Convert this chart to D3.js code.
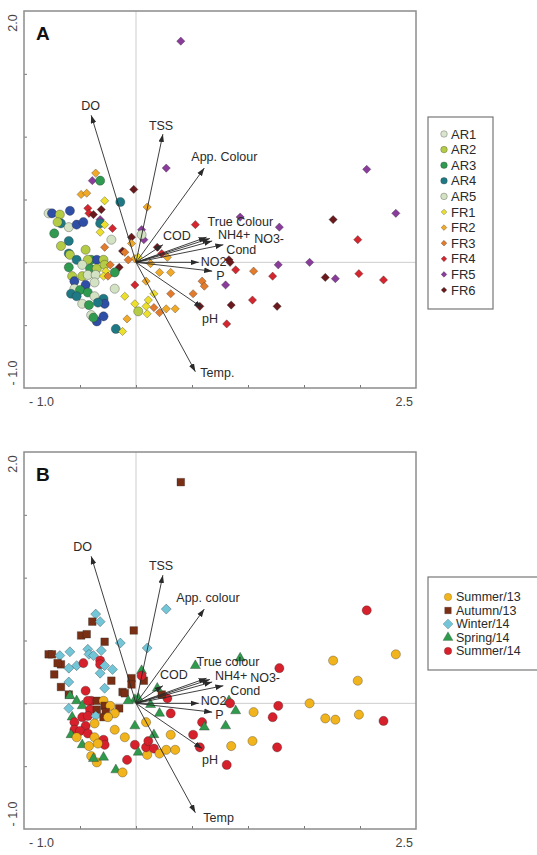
<!DOCTYPE html>
<html>
<head>
<meta charset="utf-8">
<script src="https://d3js.org/d3.v7.min.js"></script>
<style>
  body { margin: 0; background: #fff; }
  svg text { font-family: "Liberation Sans", Arial, sans-serif; fill: #2a2a2a; }
  .key text { font-family: "Liberation Sans Narrow", "Arial Narrow", "Liberation Sans", sans-serif; }
</style>
</head>
<body>
<svg id="chart" width="537" height="855"></svg>
<script>
// sites (panel A) and sampling campaigns (panel B)
const siteNames = ["AR1","AR2","AR3","AR4","AR5","FR1","FR2","FR3","FR4","FR5","FR6"];
const siteColours = ["#2f4fa6","#b4cb46","#2f9a50","#1e7985","#d3e2c3","#ede02c","#f1a928","#e27b2b","#d4262f","#8a3c9b","#6a191d"];
const seasonNames = ["Summer/13","Autumn/13","Winter/14","Spring/14","Summer/14"];
const seasonColours = ["#f2b41c","#7a2f14","#72c6d8","#2f9a4b","#d6202b"];
const seasonShapes = ["circle","square","diamond","triangle","circle"];

// sample scores (same samples in both panels)
const scoreX = [-0.36,-0.39,-0.32,-0.49,-0.44,-0.02,-0.28,-0.14,-0.43,-0.31,
  -0.42,-0.38,-0.78,-0.75,-0.68,-0.59,-0.67,-0.70,-0.60,-0.53,
  -0.47,-0.32,-0.32,-0.28,-0.21,-0.32,-0.73,-0.22,-0.60,-0.67,
  -0.45,-0.28,-0.04,-0.04,-0.12,-0.10,-0.60,-0.59,-0.01,-0.07,
  -0.53,-0.40,-0.35,-0.29,-0.43,-0.60,-0.48,-0.41,-0.35,-0.28,
  -0.23,-0.15,-0.19,-0.27,-0.57,-0.48,-0.43,-0.36,-0.29,-0.25,
  -0.55,-0.45,-0.37,-0.19,-0.55,-0.50,-0.43,-0.58,-0.53,-0.37,
  -0.29,-0.10,-0.01,-0.48,-0.42,-0.28,-0.34,-0.40,-0.35,-0.38,
  -0.29,-0.18,-0.12,-0.08,0.02,0.10,0.09,0.11,0.16,0.16,
  0.21,0.27,0.35,0.31,0.51,0.59,0.61,0.57,0.09,-0.01,
  0.21,0.31,0.13,0.28,0.23,0.19,0.10,0.53,0.05,0.07,
  0.05,0.02,2.06,2.32,1.76,1.98,1.28,0.93,1.55,1.27,
  0.83,0.84,0.89,1.05,1.22,1.69,1.78,1.99,2.21,0.80,
  0.85,1.04,1.26,0.81,0.40,0.27];
const scoreY = [0.71,0.65,0.65,0.54,0.55,0.58,0.49,0.48,0.43,0.42,
  0.39,0.38,0.39,0.39,0.38,0.41,0.31,0.32,0.28,0.30,
  0.32,0.34,0.31,0.30,0.27,0.24,0.23,0.18,0.17,0.13,
  0.10,0.12,0.20,0.15,0.09,0.08,0.07,0.06,0.03,0.02,
  0.02,0.02,0.02,0.02,0.02,-0.04,-0.02,-0.05,-0.05,-0.02,
  -0.02,-0.04,-0.08,-0.07,-0.11,-0.11,-0.10,-0.10,-0.11,-0.11,
  -0.15,-0.18,-0.16,-0.21,-0.21,-0.22,-0.24,-0.25,-0.27,-0.27,
  -0.29,-0.27,-0.33,-0.33,-0.34,-0.33,-0.32,-0.42,-0.47,-0.44,
  -0.43,-0.53,-0.55,-0.45,-0.39,-0.41,-0.35,-0.30,-0.25,-0.36,
  -0.40,-0.37,-0.37,-0.25,-0.25,-0.15,-0.19,-0.35,-0.15,-0.18,
  -0.08,-0.08,-0.01,0.04,0.07,0.12,0.44,0.30,0.26,0.18,
  0.22,0.04,0.74,0.39,0.34,0.18,0.28,0.36,0.00,-0.02,
  0.02,0.00,-0.06,-0.07,-0.11,-0.12,-0.13,-0.09,-0.14,-0.18,
  -0.34,-0.30,-0.35,-0.49,1.76,0.75];
const scoreSite = ["FR2","FR5","AR3","FR2","FR2","FR6","FR1","AR4","FR4","FR6",
  "FR4","FR6","AR5","AR1","AR2","AR1","AR4","AR2","AR5","AR1",
  "AR1","FR5","AR4","FR1","FR4","FR1","AR3","AR5","AR4","AR2",
  "AR2","FR3","FR6","FR2","FR6","FR3","AR4","AR2","FR2","FR3",
  "AR4","AR3","AR1","AR2","AR2","AR3","AR5","AR3","AR2","AR2",
  "FR3","FR6","AR3","FR1","AR2","AR2","AR5","AR5","FR1","FR3",
  "AR1","AR1","AR5","AR5","AR5","AR3","AR3","AR4","AR4","AR5",
  "AR4","FR1","FR1","AR5","AR3","AR1","AR4","AR5","AR1","AR3",
  "AR1","AR4","FR1","FR2","AR2","FR1","FR1","FR1","FR1","FR3",
  "FR3","FR2","FR2","FR3","FR3","FR3","FR3","FR6","FR2","FR4",
  "FR2","FR2","FR2","FR2","FR4","FR6","FR2","FR4","FR5","FR5",
  "AR5","FR1","FR5","FR5","FR6","FR4","FR5","FR5","FR5","FR5",
  "FR6","FR6","FR4","FR3","FR4","FR6","FR5","FR4","FR4","FR5",
  "FR6","FR4","FR6","FR4","FR5","FR5"];
// 0 Summer/13, 1 Autumn/13, 2 Winter/14, 3 Spring/14, 4 Summer/14
const scoreSeason = [2,1,2,1,1,1,1,2,2,2,
  2,2,1,1,2,2,1,1,2,2,
  4,4,4,2,2,2,1,1,2,1,
  4,2,1,1,1,1,1,3,3,3,
  3,4,1,0,4,2,3,4,1,1,
  0,1,0,1,3,4,4,2,1,0,
  4,4,0,0,4,4,4,3,0,0,
  4,0,4,3,0,4,0,0,0,3,
  3,3,0,4,3,0,4,4,3,4,
  0,0,0,0,4,4,3,4,0,3,
  3,4,3,4,1,3,2,3,3,1,
  4,3,4,0,0,0,4,3,0,4,
  3,4,3,0,4,0,0,0,4,3,
  0,0,4,4,1,2];

// environmental variables
const varLabelsA = ["DO","TSS","App. Colour","COD","True Colour","NH4+","NO3-","Cond","NO2","P","pH","Temp."];
const varLabelsB = ["DO","TSS","App. colour","COD","True colour","NH4+","NO3-","Cond","NO2","P","pH","Temp"];
const loadX = [-0.40,0.24,0.61,0.24,0.63,0.66,0.68,0.78,0.56,0.68,0.59,0.53];
const loadY = [1.17,1.02,0.75,0.14,0.20,0.19,0.17,0.14,0.00,-0.07,-0.36,-0.87];

// label placement relative to arrow tips (px)
const labelShiftA = [[-10,-5],[-14,-4],[-13,-7],[0,-5],[1,-11],[8,1],[42,2],[3,9],[2,4],[4,9],[0,15],[5,5]];
const labelShiftB = [[-18,-5],[-14,-5],[-28,-7],[-3,-7],[-10,-12],[5,1],[38,0],[7,9],[2,2],[3,7],[0,15],[8,9]];

const svg = d3.select("#chart");
const left = 24, right = 416, plotH = 377;

svg.append("defs").append("marker")
  .attr("id", "head")
  .attr("viewBox", "-8 -3 8 6")
  .attr("refX", 0).attr("refY", 0)
  .attr("markerWidth", 8).attr("markerHeight", 6)
  .attr("markerUnits", "userSpaceOnUse")
  .attr("orient", "auto")
  .append("path")
  .attr("d", "M0,0L-8,-2.8L-8,2.8Z")
  .attr("fill", "#2a2a2a");

var x = d3.scaleLinear().domain([-1, 2.5]).range([left, right]);

function symbolPath(shape, size) {
  if (shape == "diamond" || shape == "square")
    return d3.symbol().type(d3.symbolSquare).size(size)();
  if (shape == "triangle")
    return d3.symbol().type(d3.symbolTriangle).size(size)();
  return d3.symbol().type(d3.symbolCircle).size(size)();
}

function drawPanel(top, letter, colourOf, shapeOf, sizeOf, labels, shifts) {
  var bottom = top + plotH;
  var y = d3.scaleLinear().domain([-1, 2]).range([bottom, top]);
  var g = svg.append("g");

  // zero lines
  g.append("line").attr("x1", x(0)).attr("x2", x(0)).attr("y1", top).attr("y2", bottom)
    .style("stroke", "#cdcdcd").style("stroke-width", 1);
  g.append("line").attr("x1", left).attr("x2", right).attr("y1", y(0)).attr("y2", y(0))
    .style("stroke", "#cdcdcd").style("stroke-width", 1);

  // inner ticks
  var xAxis = g.append("g").attr("transform", "translate(0," + bottom + ")")
    .call(d3.axisBottom(x).tickValues([-0.5, 0, 0.5, 1, 1.5, 2]).tickSize(-3).tickFormat(""));
  var yAxis = g.append("g").attr("transform", "translate(" + left + ",0)")
    .call(d3.axisLeft(y).tickValues([-0.5, 0, 0.5, 1, 1.5]).tickSize(-3).tickFormat(""));
  [xAxis, yAxis].forEach(function(a) {
    a.select(".domain").remove();
    a.selectAll("line").style("stroke", "#777").style("stroke-width", 1);
  });

  // frame
  g.append("rect").attr("x", left).attr("y", top).attr("width", right - left).attr("height", plotH)
    .style("fill", "none").style("stroke", "#8c8c8c").style("stroke-width", 1.5);

  // end labels
  g.append("text").attr("x", x(-1) + 5).attr("y", bottom + 18).style("font-size", "12.5px").style("fill", "#444").text("- 1.0");
  g.append("text").attr("x", x(2.5) - 3).attr("y", bottom + 18).attr("text-anchor", "end").style("font-size", "12.5px").style("fill", "#444").text("2.5");
  g.append("text").attr("transform", "translate(17," + (y(2) + 12) + ") rotate(-90)")
    .attr("text-anchor", "middle").style("font-size", "12.5px").style("fill", "#444").text("2.0");
  g.append("text").attr("transform", "translate(17," + (y(-1) - 15) + ") rotate(-90)")
    .attr("text-anchor", "middle").style("font-size", "12.5px").style("fill", "#444").text("- 1.0");

  // samples
  g.selectAll("path.pt")
    .data(scoreX.map(function(v, i) { return i; }))
    .enter()
    .append("path")
    .attr("class", "pt")
    .attr("d", function(i) { return symbolPath(shapeOf(i), sizeOf(i)); })
    .attr("transform", function(i) {
      var rot = shapeOf(i) == "diamond" ? " rotate(45)" : "";
      return "translate(" + x(scoreX[i]) + "," + y(scoreY[i]) + ")" + rot;
    })
    .style("fill", function(i) { return colourOf(i); })
    .style("stroke", "rgba(40,40,40,0.55)")
    .style("stroke-width", 0.6);

  // variable arrows
  var vars = loadX.map(function(v, i) { return i; });
  g.selectAll("line.arrow")
    .data(vars)
    .enter()
    .append("line")
    .attr("class", "arrow")
    .attr("x1", x(0)).attr("y1", y(0))
    .attr("x2", function(i) { return x(loadX[i]); })
    .attr("y2", function(i) { return y(loadY[i]); })
    .attr("marker-end", "url(#head)")
    .style("stroke", "#2a2a2a").style("stroke-width", 0.9);

  g.selectAll("text.var")
    .data(vars)
    .enter()
    .append("text")
    .attr("class", "var")
    .attr("x", function(i) { return x(loadX[i]) + shifts[i][0]; })
    .attr("y", function(i) { return y(loadY[i]) + shifts[i][1]; })
    .style("font-size", "12.5px")
    .text(function(i) { return labels[i]; });

  g.append("text").attr("x", 36).attr("y", top + 29)
    .style("font-size", "19px").style("font-weight", "bold").style("fill", "#111").text(letter);
}

function siteIdx(i) { return siteNames.indexOf(scoreSite[i]); }

drawPanel(11, "A",
  function(i) { return siteColours[siteIdx(i)]; },
  function(i) { return siteIdx(i) < 5 ? "circle" : "diamond"; },
  function(i) { return siteIdx(i) < 5 ? 66 : 34; },
  varLabelsA, labelShiftA);

drawPanel(452, "B",
  function(i) { return seasonColours[scoreSeason[i]]; },
  function(i) { return seasonShapes[scoreSeason[i]]; },
  function(i) {
    var s = seasonShapes[scoreSeason[i]];
    return s == "circle" ? 66 : s == "square" ? 58 : s == "diamond" ? 50 : 44;
  },
  varLabelsB, labelShiftB);

// legend A (the AR1 swatch is printed pale in the original key)
var keyA = svg.append("g").attr("class", "key");
keyA.append("rect").attr("x", 428).attr("y", 117).attr("width", 65).attr("height", 192)
  .style("fill", "#fff").style("stroke", "#777").style("stroke-width", 1.2);
siteNames.forEach(function(name, k) {
  var cy = 134 + k * 15.6;
  var col = k == 0 ? "#d9e5cd" : siteColours[k];
  keyA.append("path")
    .attr("d", symbolPath(k < 5 ? "circle" : "diamond", k < 5 ? 34 : 16))
    .attr("transform", "translate(444," + cy + ")" + (k < 5 ? "" : " rotate(45)"))
    .style("fill", col).style("stroke", "rgba(40,40,40,0.5)").style("stroke-width", 0.6);
  keyA.append("text").attr("x", 451).attr("y", cy + 4.5).style("font-size", "13px").text(name);
});

// legend B
var keyB = svg.append("g").attr("class", "key");
keyB.append("rect").attr("x", 428).attr("y", 577).attr("width", 110).attr("height", 93)
  .style("fill", "#fff").style("stroke", "#777").style("stroke-width", 1.2);
seasonNames.forEach(function(name, k) {
  var cy = 597 + k * 13.5;
  var s = seasonShapes[k];
  keyB.append("path")
    .attr("d", symbolPath(s, s == "diamond" ? 50 : 44))
    .attr("transform", "translate(448," + cy + ")" + (s == "diamond" ? " rotate(45)" : ""))
    .style("fill", seasonColours[k]).style("stroke", "rgba(40,40,40,0.4)").style("stroke-width", 0.5);
  keyB.append("text").attr("x", 456).attr("y", cy + 4.3).style("font-size", "12.5px").text(name);
});
</script>
</body>
</html>
